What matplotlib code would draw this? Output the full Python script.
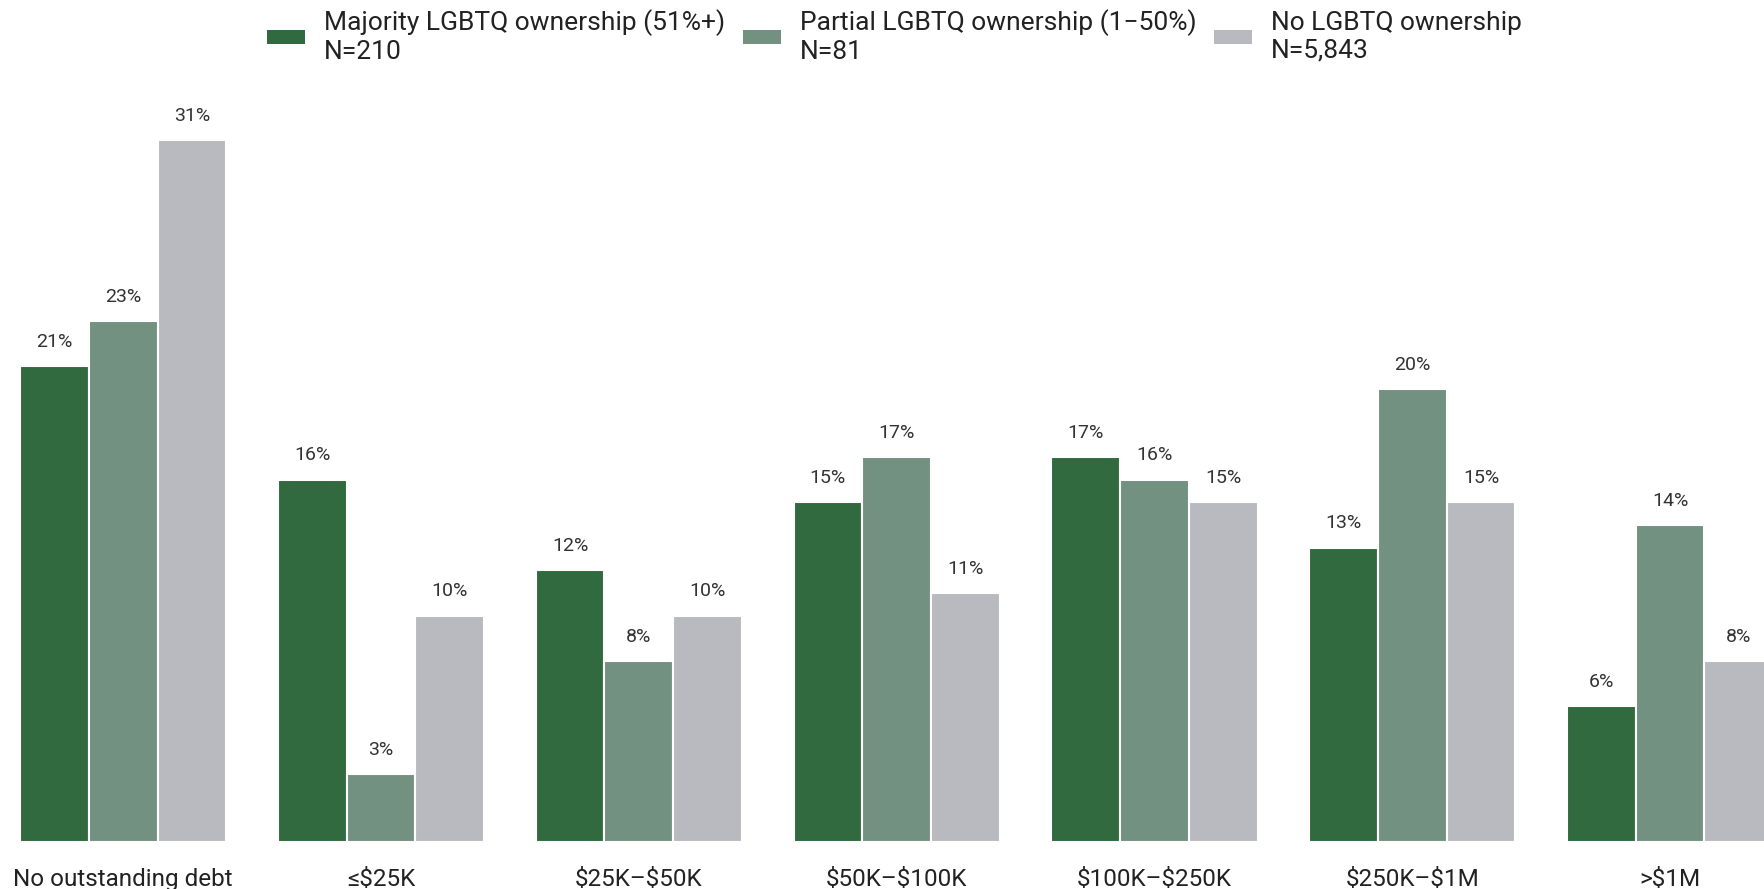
import matplotlib
matplotlib.use("Agg")
import matplotlib.pyplot as plt
import numpy as np

categories = ["No outstanding debt", "\u2264\\$25K", "\\$25K\u2013\\$50K", "\\$50K\u2013\\$100K",
              "\\$100K\u2013\\$250K", "\\$250K\u2013\\$1M", ">\\$1M"]
series_names = ["Majority LGBTQ ownership (51%+)\nN=210",
                "Partial LGBTQ ownership (1\u221250%)\nN=81",
                "No LGBTQ ownership\nN=5,843"]
majority = [21, 16, 12, 15, 17, 13, 6]
partial = [23, 3, 8, 17, 16, 20, 14]
none_ = [31, 10, 10, 11, 15, 15, 8]
colors = ["#306a3e", "#739180", "#b9babf"]

W, H = 1765, 889
fig = plt.figure(figsize=(W / 100, H / 100), dpi=100)
base_px = 842
px_per_unit = 22.65
top_y = 35
ax_bottom = (H - base_px) / H
ax_height = top_y * px_per_unit / H
ax = fig.add_axes([0, ax_bottom, 1, ax_height])

x = np.arange(len(categories))
bw = 0.8 / 3
series = [majority, partial, none_]
for i, (vals, c, name) in enumerate(zip(series, colors, series_names)):
    bars = ax.bar(x + (i - 1) * bw, vals, width=bw, color=c, edgecolor="white",
                  linewidth=1.5, label=name, clip_on=True)
    for b, v in zip(bars, vals):
        ax.annotate(f"{v}%", (b.get_x() + b.get_width() / 2, v), xytext=(0, 11),
                    textcoords="offset points", ha="center", va="bottom",
                    fontsize=14, color="#333333", family=["Roboto", "DejaVu Sans"])

ax.set_xlim(-0.478, 6.368)
ax.set_ylim(0, top_y)
ax.set_xticks(x)
ax.set_xticklabels(categories, fontsize=17.5,
                   family=["Roboto", "DejaVu Sans"], color="#222222")
ax.tick_params(axis="x", length=0, pad=19)
ax.set_yticks([])
for s in ax.spines.values():
    s.set_visible(False)

leg = fig.legend(loc="upper left", bbox_to_anchor=(267 / W, 1 - 9.5 / H), ncol=3,
                 frameon=False, borderpad=0, borderaxespad=0,
                 handlelength=1.45, handleheight=0.45, handletextpad=0.72,
                 columnspacing=0.65,
                 prop={"family": ["Roboto", "DejaVu Sans"], "size": 19})
for t in leg.get_texts():
    t.set_color("#222222")
    t.set_linespacing(1.17)
for h in leg.legend_handles:
    h.set_edgecolor("none")

fig.savefig("out.png", dpi=100)
